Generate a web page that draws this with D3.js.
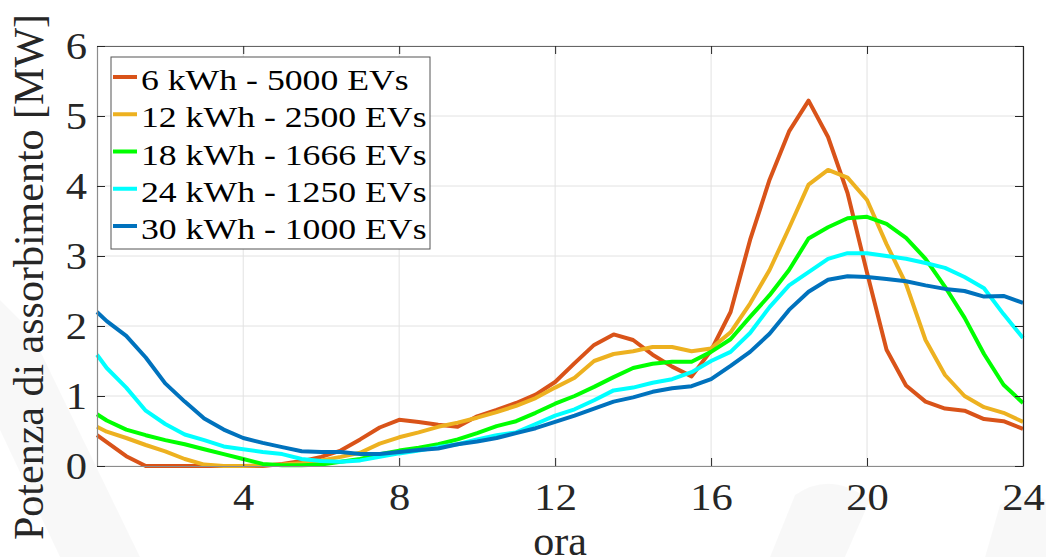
<!DOCTYPE html>
<html>
<head>
<meta charset="utf-8">
<script src="https://cdn.jsdelivr.net/npm/d3@7"></script>
<style>
  body { margin: 0; background: #fff; }
  svg { display: block; font-family: "Liberation Serif", "Times New Roman", serif; }
</style>
</head>
<body>
<svg id="chart" width="1046" height="557"></svg>
<script>
// hours of the day (x) and absorbed power in MW for each battery size
var hours = [0.25,0.5,1,1.5,2,2.5,3,3.5,4,4.5,5,5.5,6,6.5,7,7.5,8,8.5,9,9.5,10,10.5,11,11.5,12,12.5,13,13.5,14,14.5,15,15.5,16,16.5,17,17.5,18,18.5,19,19.5,20,20.5,21,21.5,22,22.5,23,23.5,24];

var kwh6 = [0.44,0.34,0.14,0.0,0,0,0,0,0,0, 0.03,0.07,0.13,0.22,0.38,0.55,0.66,0.63,0.59,0.56, 0.71,0.8,0.9,1.02,1.2,1.47,1.73,1.88,1.8,1.59, 1.42,1.28,1.65,2.2,3.23,4.09,4.78,5.22,4.7,3.9, 2.76,1.66,1.15,0.92,0.82,0.79,0.67,0.64,0.53];
var kwh12 = [0.56,0.49,0.4,0.3,0.21,0.1,0.02,0,0,0.01, 0.02,0.04,0.08,0.13,0.19,0.32,0.41,0.48,0.56,0.62, 0.69,0.77,0.86,0.97,1.12,1.26,1.5,1.6,1.64,1.7, 1.7,1.64,1.68,1.91,2.32,2.8,3.4,4.02,4.23,4.12, 3.8,3.17,2.6,1.8,1.3,1.0,0.84,0.76,0.63];
var kwh18 = [0.74,0.65,0.52,0.44,0.37,0.31,0.24,0.17,0.1,0.03, 0.01,0.01,0.02,0.06,0.1,0.17,0.22,0.26,0.31,0.38, 0.47,0.57,0.64,0.76,0.89,1.0,1.13,1.27,1.4,1.46, 1.49,1.49,1.63,1.81,2.13,2.44,2.8,3.25,3.41,3.54, 3.56,3.46,3.26,2.96,2.56,2.12,1.6,1.16,0.9];
var kwh24 = [1.59,1.4,1.12,0.79,0.6,0.45,0.37,0.28,0.24,0.2, 0.17,0.1,0.07,0.06,0.08,0.13,0.18,0.22,0.27,0.31, 0.38,0.44,0.48,0.6,0.72,0.81,0.94,1.08,1.12,1.19, 1.24,1.34,1.5,1.63,1.9,2.27,2.58,2.77,2.96,3.04, 3.04,3.0,2.96,2.9,2.83,2.7,2.54,2.17,1.83];
var kwh30 = [2.2,2.07,1.86,1.55,1.18,0.92,0.68,0.52,0.4,0.33, 0.27,0.21,0.2,0.2,0.17,0.17,0.2,0.23,0.25,0.31, 0.35,0.4,0.47,0.54,0.63,0.72,0.82,0.92,0.98,1.06, 1.11,1.14,1.24,1.43,1.63,1.89,2.23,2.49,2.66,2.71, 2.7,2.67,2.64,2.58,2.53,2.5,2.42,2.43,2.33];

var seriesNames = ["6 kWh - 5000 EVs","12 kWh - 2500 EVs","18 kWh - 1666 EVs","24 kWh - 1250 EVs","30 kWh - 1000 EVs"];
var seriesColors = ["#D95319","#EDB120","#00FF00","#00FFFF","#0072BD"];
var seriesValues = [kwh6, kwh12, kwh18, kwh24, kwh30];

var xTicks = [4,8,12,16,20,24];
var yTicks = [0,1,2,3,4,5,6];

var svg = d3.select("#chart");
var plotL = 97, plotR = 1023, plotT = 46, plotB = 466;

// faint background shapes (watermark)
var wm = svg.append("g").attr("fill", "#000").attr("fill-opacity", 0.028);
wm.append("path").attr("d", "M0,300 L30,330 L140,557 L60,557 L0,430 Z");
wm.append("path").attr("d", "M795,495 Q830,470 870,500 L845,557 L770,557 Z");
wm.append("path").attr("d", "M1000,505 Q1025,490 1046,500 L1046,557 L985,557 Z");

var x = d3.scaleLinear().domain([0.25, 24]).range([plotL, plotR]);
var y = d3.scaleLinear().domain([0, 6]).range([plotB, plotT]);

svg.append("rect").attr("x", plotL).attr("y", plotT)
  .attr("width", plotR - plotL).attr("height", plotB - plotT).attr("fill", "#fff");

// grid
var grid = svg.append("g").attr("stroke", "#e2e2e2").attr("stroke-width", 1);
grid.selectAll(".gx").data(xTicks).enter().append("line")
  .attr("x1", d => x(d)).attr("x2", d => x(d)).attr("y1", plotT).attr("y2", plotB);
grid.selectAll(".gy").data(yTicks).enter().append("line")
  .attr("x1", plotL).attr("x2", plotR).attr("y1", d => y(d)).attr("y2", d => y(d));

// curves
var line = d3.line().x((d, i) => x(hours[i])).y(d => y(d));
svg.append("g").selectAll("path").data(seriesValues).enter().append("path")
  .attr("d", d => line(d))
  .attr("fill", "none")
  .attr("stroke", (d, i) => seriesColors[i])
  .attr("stroke-width", 4)
  .attr("stroke-linejoin", "round");

// axes (ticks pointing inward, box on)
var tickLen = 8;
var gBottom = svg.append("g").attr("transform", "translate(0," + plotB + ")")
  .call(d3.axisBottom(x).tickValues(xTicks).tickSizeInner(-tickLen).tickSizeOuter(0).tickFormat(d3.format("d")));
var gTop = svg.append("g").attr("transform", "translate(0," + plotT + ")")
  .call(d3.axisTop(x).tickValues(xTicks).tickSizeInner(-tickLen).tickSizeOuter(0).tickFormat(""));
var gLeft = svg.append("g").attr("transform", "translate(" + plotL + ",0)")
  .call(d3.axisLeft(y).tickValues(yTicks).tickSizeInner(-tickLen).tickSizeOuter(0).tickFormat(d3.format("d")));
var gRight = svg.append("g").attr("transform", "translate(" + plotR + ",0)")
  .call(d3.axisRight(y).tickValues(yTicks).tickSizeInner(-tickLen).tickSizeOuter(0).tickFormat(""));

[gBottom, gTop, gLeft, gRight].forEach(function(g) {
  g.selectAll(".tick line").attr("stroke", "#262626");
  g.select(".domain").attr("stroke-width", 1.2);
});
gBottom.select(".domain").attr("stroke", "#8c8c8c");
gLeft.select(".domain").attr("stroke", "#8c8c8c");
gTop.select(".domain").attr("stroke", "#666");
gRight.select(".domain").attr("stroke", "#262626");

gBottom.selectAll(".tick text")
  .attr("y", 0).attr("dy", 0)
  .attr("transform", "translate(0,44) scale(1.15,1)")
  .style("font-family", "Liberation Serif")
  .style("font-size", "37px").attr("fill", "#262626");
gLeft.selectAll(".tick text")
  .attr("x", 0).attr("dy", 0)
  .attr("transform", "translate(-10,12) scale(1.15,1)")
  .style("font-family", "Liberation Serif")
  .style("font-size", "37px").attr("fill", "#262626");

// axis labels
svg.append("text")
  .attr("x", (plotL + plotR) / 2).attr("y", 555)
  .attr("text-anchor", "middle")
  .style("font-size", "42px").attr("fill", "#262626")
  .text("ora");
svg.append("text")
  .attr("transform", "translate(43,277) rotate(-90)")
  .attr("text-anchor", "middle")
  .style("font-size", "42px").attr("fill", "#262626")
  .text("Potenza di assorbimento [MW]");

// legend
var lg = svg.append("g");
lg.append("rect").attr("x", 111).attr("y", 57).attr("width", 319).attr("height", 192)
  .attr("fill", "#fff").attr("stroke", "#555").attr("stroke-width", 1);
var rowY = d3.scaleLinear().domain([0, 4]).range([90, 239]);
var rows = lg.selectAll(".row").data(seriesNames).enter().append("g");
rows.append("line")
  .attr("x1", 113).attr("x2", 137)
  .attr("y1", (d, i) => rowY(i) - 13).attr("y2", (d, i) => rowY(i) - 13)
  .attr("stroke", (d, i) => seriesColors[i]).attr("stroke-width", 4);
rows.append("text")
  .attr("transform", (d, i) => "translate(141," + rowY(i) + ") scale(1.19,1)")
  .style("font-size", "30px").attr("fill", "#000")
  .text(d => d);
</script>
</body>
</html>
